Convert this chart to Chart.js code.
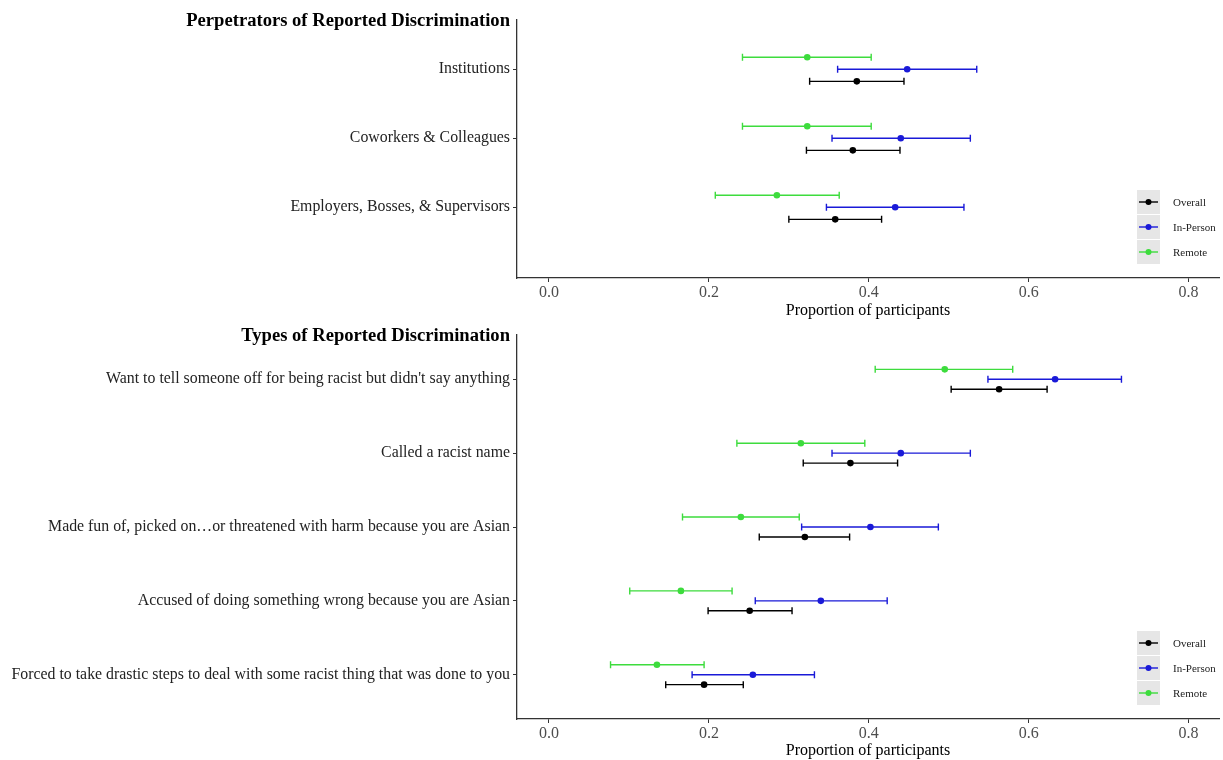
<!DOCTYPE html>
<html>
<head>
<meta charset="utf-8">
<title>Reported Discrimination</title>
<script src="https://cdn.jsdelivr.net/npm/chart.js@4"></script>
<style>
  html, body { margin: 0; padding: 0; background: #fff; }
  #wrap { position: relative; width: 1223px; height: 760px; }
  #wrap canvas { position: absolute; left: 0; }
  #topChart { top: 0; }
  #bottomChart { top: 322px; }
</style>
</head>
<body>
<div id="wrap">
  <canvas id="topChart" width="1223" height="322"></canvas>
  <canvas id="bottomChart" width="1223" height="438"></canvas>
</div>
<script>
// ---- data ----
const seriesNames = ['Overall', 'In-Person', 'Remote'];
const xTicks = [0, 0.2, 0.4, 0.6, 0.8];

// panel 1: perpetrators
const perpTitle = 'Perpetrators of Reported Discrimination';
const perpCategories = ['Institutions', 'Coworkers & Colleagues', 'Employers, Bosses, & Supervisors'];
const perpOverall      = [0.385, 0.380, 0.358];
const perpOverallLow   = [0.326, 0.322, 0.300];
const perpOverallHigh  = [0.444, 0.439, 0.416];
const perpInPerson     = [0.448, 0.440, 0.433];
const perpInPersonLow  = [0.361, 0.354, 0.347];
const perpInPersonHigh = [0.535, 0.527, 0.519];
const perpRemote       = [0.323, 0.323, 0.285];
const perpRemoteLow    = [0.242, 0.242, 0.208];
const perpRemoteHigh   = [0.403, 0.403, 0.363];

// panel 2: types
const typeTitle = 'Types of Reported Discrimination';
const typeCategories = [
  "Want to tell someone off for being racist but didn't say anything",
  'Called a racist name',
  'Made fun of, picked on\u2026or threatened with harm because you are Asian',
  'Accused of doing something wrong because you are Asian',
  'Forced to take drastic steps to deal with some racist thing that was done to you'
];
const typeOverall      = [0.563, 0.377, 0.320, 0.251, 0.194];
const typeOverallLow   = [0.503, 0.318, 0.263, 0.199, 0.146];
const typeOverallHigh  = [0.623, 0.436, 0.376, 0.304, 0.243];
const typeInPerson     = [0.633, 0.440, 0.402, 0.340, 0.255];
const typeInPersonLow  = [0.549, 0.354, 0.316, 0.258, 0.179];
const typeInPersonHigh = [0.716, 0.527, 0.487, 0.423, 0.332];
const typeRemote       = [0.495, 0.315, 0.240, 0.165, 0.135];
const typeRemoteLow    = [0.408, 0.235, 0.167, 0.101, 0.077];
const typeRemoteHigh   = [0.580, 0.395, 0.313, 0.229, 0.194];

// ---- styles ----
const SERIF = '"Liberation Serif", "DejaVu Serif", serif';
const COLORS = { 'Overall': '#000000', 'In-Person': '#1a1ad8', 'Remote': '#3ddc3d' };
const AXIS = '#333333';
const X_MIN = -0.04, X_MAX = 0.838;

// error bars drawn under the points
const errorBars = {
  id: 'errorBars',
  beforeDatasetsDraw(chart) {
    const { ctx, scales: { x, y } } = chart;
    chart.data.datasets.forEach(ds => {
      ctx.save();
      ctx.strokeStyle = ds.borderColor;
      ctx.lineWidth = 1.4;
      ds.data.forEach((pt, i) => {
        const yp = y.getPixelForValue(pt.y);
        const x0 = x.getPixelForValue(ds.lower[i]);
        const x1 = x.getPixelForValue(ds.upper[i]);
        ctx.beginPath();
        ctx.moveTo(x0, yp); ctx.lineTo(x1, yp);
        ctx.moveTo(x0, yp - 3.5); ctx.lineTo(x0, yp + 3.5);
        ctx.moveTo(x1, yp - 3.5); ctx.lineTo(x1, yp + 3.5);
        ctx.stroke();
      });
      ctx.restore();
    });
  }
};

// bold panel title, right aligned against the y axis
const panelTitle = {
  id: 'panelTitle',
  afterDraw(chart, args, opts) {
    const { ctx, chartArea } = chart;
    ctx.save();
    ctx.font = 'bold 18.6px ' + SERIF;
    ctx.fillStyle = '#000';
    ctx.textAlign = 'right';
    ctx.textBaseline = 'middle';
    ctx.fillText(opts.text, chartArea.left - 7, chartArea.top + 1);
    ctx.restore();
  }
};

// ggplot-like legend with grey key boxes, bottom-right inside the panel
const keyLegend = {
  id: 'keyLegend',
  afterDraw(chart) {
    const { ctx, chartArea } = chart;
    const left = chartArea.right - 82;
    ctx.save();
    seriesNames.forEach((name, i) => {
      const cy = chartArea.bottom - 76 + i * 25;
      ctx.fillStyle = '#e6e6e6';
      ctx.fillRect(left, cy - 12, 23, 24);
      ctx.strokeStyle = COLORS[name];
      ctx.lineWidth = 1.4;
      ctx.beginPath();
      ctx.moveTo(left + 2, cy); ctx.lineTo(left + 21, cy);
      ctx.stroke();
      ctx.fillStyle = COLORS[name];
      ctx.beginPath();
      ctx.arc(left + 11.5, cy, 3, 0, Math.PI * 2);
      ctx.fill();
      ctx.fillStyle = '#222';
      ctx.font = '11px ' + SERIF;
      ctx.textAlign = 'left';
      ctx.textBaseline = 'middle';
      ctx.fillText(name, left + 36, cy + 1);
    });
    ctx.restore();
  }
};

function makeDataset(name, values, lower, upper, offset) {
  return {
    label: name,
    data: values.map((v, i) => ({ x: v, y: i + 1 + offset })),
    lower: lower,
    upper: upper,
    borderColor: COLORS[name],
    backgroundColor: COLORS[name],
    pointRadius: 3.3,
    pointBorderWidth: 0,
    showLine: false
  };
}

function makeChart(canvasId, title, categories, yMin, yMax, dodge, topPad, xAxisHeight, titleBottomPad, series) {
  const datasets = [
    makeDataset('Remote', series.remote, series.remoteLow, series.remoteHigh, -dodge),
    makeDataset('In-Person', series.inPerson, series.inPersonLow, series.inPersonHigh, 0),
    makeDataset('Overall', series.overall, series.overallLow, series.overallHigh, dodge)
  ];
  return new Chart(document.getElementById(canvasId), {
    type: 'scatter',
    data: { datasets },
    plugins: [errorBars, panelTitle, keyLegend],
    options: {
      responsive: false,
      devicePixelRatio: 1,
      animation: false,
      layout: { padding: { top: topPad, left: 0, right: 0, bottom: 0 } },
      plugins: {
        legend: { display: false },
        tooltip: { enabled: false },
        panelTitle: { text: title }
      },
      scales: {
        x: {
          type: 'linear',
          min: X_MIN,
          max: X_MAX,
          bounds: 'data',
          afterBuildTicks(s) { s.ticks = xTicks.map(v => ({ value: v })); },
          afterFit(s) { s.height = xAxisHeight; },
          ticks: {
            callback: v => v.toFixed(1),
            color: '#4d4d4d',
            font: { family: SERIF, size: 16 },
            padding: 1,
            autoSkip: false,
            maxRotation: 0
          },
          grid: { drawOnChartArea: false, tickLength: 4, color: AXIS, tickColor: AXIS },
          border: { display: true, color: AXIS, width: 1.3 },
          title: {
            display: true,
            text: 'Proportion of participants',
            color: '#000',
            font: { family: SERIF, size: 16 },
            padding: { top: 0, bottom: titleBottomPad }
          }
        },
        y: {
          type: 'linear',
          reverse: true,
          min: yMin,
          max: yMax,
          bounds: 'data',
          afterBuildTicks(s) { s.ticks = categories.map((c, i) => ({ value: i + 1 })); },
          afterFit(s) { s.width = 517; },
          ticks: {
            callback: v => categories[v - 1] || '',
            color: '#222',
            font: { family: SERIF, size: 15.85 },
            padding: 3,
            autoSkip: false
          },
          grid: { drawOnChartArea: false, tickLength: 4, color: AXIS, tickColor: AXIS },
          border: { display: true, color: AXIS, width: 1.3 }
        }
      }
    }
  });
}

makeChart('topChart', perpTitle, perpCategories, 0.286, 4.025, 0.175, 20, 44, 2, {
  overall: perpOverall, overallLow: perpOverallLow, overallHigh: perpOverallHigh,
  inPerson: perpInPerson, inPersonLow: perpInPersonLow, inPersonHigh: perpInPersonHigh,
  remote: perpRemote, remoteLow: perpRemoteLow, remoteHigh: perpRemoteHigh
});

makeChart('bottomChart', typeTitle, typeCategories, 0.4, 5.6, 0.135, 13, 41, 0, {
  overall: typeOverall, overallLow: typeOverallLow, overallHigh: typeOverallHigh,
  inPerson: typeInPerson, inPersonLow: typeInPersonLow, inPersonHigh: typeInPersonHigh,
  remote: typeRemote, remoteLow: typeRemoteLow, remoteHigh: typeRemoteHigh
});
</script>
</body>
</html>
